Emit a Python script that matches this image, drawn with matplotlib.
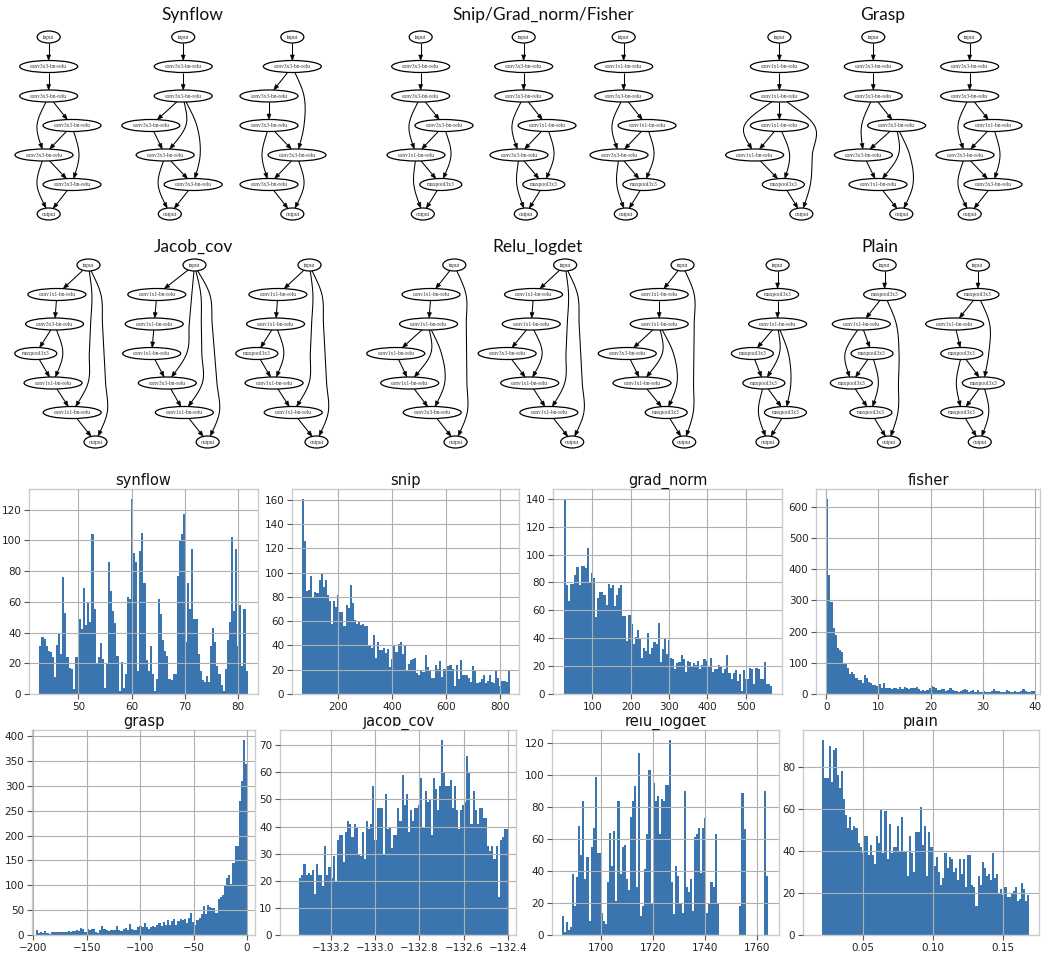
import numpy as np
import matplotlib
matplotlib.use("Agg")
import matplotlib.pyplot as plt
from matplotlib.patches import Ellipse, Polygon
from matplotlib.transforms import Bbox
from itertools import permutations, product
from collections import defaultdict

# ============================ DATA ============================
OP_LABELS = {"I": "input", "O": "output", "A": "conv3x3-bn-relu",
             "B": "conv1x1-bn-relu", "M": "maxpool3x3"}

ZIGZAG = [(0, 1), (1, 2), (2, 3), (2, 4), (3, 4), (3, 5), (4, 5), (4, 6), (5, 6)]

SYNFLOW_OPS = ["IAAAAAO", "IAAAAAO", "IAAAAAO"]
SYNFLOW_EDGES = [ZIGZAG,
                 [(0, 1), (1, 2), (2, 3), (2, 4), (2, 5), (3, 4), (4, 5), (4, 6), (5, 6)],
                 [(0, 1), (1, 2), (1, 4), (2, 3), (3, 4), (3, 5), (4, 5), (4, 6), (5, 6)]]
SNIP_OPS = ["IAAABMO", "IAABAMO", "IBABAMO"]
SNIP_EDGES = [ZIGZAG, ZIGZAG, ZIGZAG]
GRASP_OPS = ["IBBBBMO", "IAAAABO", "IAABAAO"]
GRASP_EDGES = [[(0, 1), (1, 2), (2, 3), (2, 4), (2, 6), (3, 4), (3, 5), (4, 5), (5, 6)],
               [(0, 1), (1, 2), (2, 3), (2, 4), (3, 4), (3, 5), (3, 6), (4, 5), (5, 6)],
               ZIGZAG]
JACOB_OPS = ["IBAMBBO", "IBBBABO", "IBBMBBO"]
JACOB_EDGES = [[(0, 1), (0, 5), (0, 6), (1, 2), (2, 3), (2, 4), (3, 4), (4, 5), (5, 6)],
               [(0, 1), (0, 4), (0, 5), (0, 6), (1, 2), (2, 3), (3, 4), (4, 5), (5, 6)],
               [(0, 1), (0, 5), (0, 6), (1, 2), (2, 3), (2, 4), (3, 4), (4, 5), (5, 6)]]
RELU_OPS = ["IBBBBAO", "IBBABBO", "IBBABMO"]
RELU_EDGES = [[(0, 1), (0, 6), (1, 2), (2, 3), (2, 4), (2, 5), (3, 4), (4, 5), (5, 6)],
              [(0, 1), (0, 5), (0, 6), (1, 2), (2, 3), (2, 4), (3, 4), (4, 5), (5, 6)],
              [(0, 1), (0, 6), (1, 2), (2, 3), (2, 4), (2, 5), (3, 4), (4, 5), (5, 6)]]
PLAIN_OPS = ["IMBMMMO", "IMBMMMO", "IMBMMMO"]
PLAIN_EDGES = [[(0, 1), (1, 2), (2, 3), (2, 4), (2, 5), (3, 4), (4, 5), (4, 6), (5, 6)],
               [(0, 1), (1, 2), (1, 6), (2, 3), (2, 4), (3, 4), (3, 5), (4, 5), (5, 6)],
               [(0, 1), (1, 2), (1, 4), (2, 3), (3, 4), (3, 5), (4, 5), (4, 6), (5, 6)]]

GROUP_TITLES = ["Synflow", "Snip/Grad_norm/Fisher", "Grasp", "Jacob_cov", "Relu_logdet", "Plain"]
GROUP_OPS = [SYNFLOW_OPS, SNIP_OPS, GRASP_OPS, JACOB_OPS, RELU_OPS, PLAIN_OPS]
GROUP_EDGES = [SYNFLOW_EDGES, SNIP_EDGES, GRASP_EDGES, JACOB_EDGES, RELU_EDGES, PLAIN_EDGES]

HIST_TITLES = ["synflow", "snip", "grad_norm", "fisher", "grasp", "jacob_cov", "relu_logdet", "plain"]

SYNFLOW_RANGE = (42.7, 81.75)
SYNFLOW_COUNTS = [31, 37, 36, 31, 28, 27, 24, 11, 32, 40, 26, 76, 53, 24, 17, 16, 3, 24, 24, 49,
                  42, 69, 45, 59, 47, 104, 55, 20, 24, 33, 23, 4, 20, 86, 67, 54, 46, 25, 2, 21,
                  4, 13, 63, 62, 127, 92, 86, 15, 93, 105, 72, 22, 15, 31, 13, 2, 10, 62, 52, 35,
                  28, 25, 10, 9, 13, 13, 77, 100, 104, 117, 34, 72, 55, 94, 49, 49, 26, 15, 9, 8,
                  12, 8, 31, 43, 34, 18, 13, 6, 2, 16, 35, 47, 102, 54, 94, 31, 58, 18, 55, 15]
SNIP_RANGE = (64.0, 837.0)
SNIP_COUNTS = [161, 126, 85, 86, 97, 80, 84, 83, 94, 99, 88, 94, 82, 77, 58, 77, 72, 82, 68, 68,
               56, 73, 71, 90, 75, 61, 58, 60, 57, 58, 56, 56, 40, 38, 49, 30, 43, 36, 36, 38,
               34, 37, 22, 29, 40, 35, 41, 43, 33, 40, 19, 25, 28, 29, 30, 17, 16, 19, 18, 32,
               22, 20, 13, 13, 24, 21, 27, 14, 21, 21, 23, 24, 21, 7, 24, 12, 28, 16, 16, 16,
               13, 10, 23, 20, 9, 10, 12, 16, 9, 11, 16, 10, 9, 19, 13, 7, 11, 11, 10, 19]
GRAD_NORM_RANGE = (26.0, 569.0)
GRAD_NORM_COUNTS = [140, 78, 67, 79, 79, 85, 91, 78, 92, 92, 90, 105, 80, 87, 83, 55, 69, 73, 73, 71,
                    64, 79, 76, 78, 63, 71, 76, 78, 56, 56, 38, 57, 50, 36, 41, 46, 40, 26, 33, 31,
                    44, 29, 33, 37, 36, 51, 23, 32, 40, 29, 39, 26, 25, 18, 22, 23, 28, 25, 16, 24,
                    23, 20, 22, 21, 24, 18, 21, 25, 24, 20, 26, 16, 18, 18, 21, 20, 15, 18, 28, 15,
                    11, 15, 17, 9, 14, 2, 17, 11, 11, 19, 18, 7, 19, 18, 11, 11, 23, 7, 7, 6]
FISHER_RANGE = (0.0, 40.0)
FISHER_COUNTS = [625, 380, 295, 210, 190, 148, 142, 135, 100, 95, 82, 65, 70, 65, 50, 45, 45, 35, 60, 50,
                 38, 35, 30, 28, 25, 32, 20, 35, 18, 20, 20, 15, 18, 20, 15, 22, 15, 22, 20, 15,
                 20, 18, 20, 22, 15, 10, 12, 10, 12, 20, 25, 22, 18, 12, 12, 15, 15, 10, 12, 18,
                 14, 10, 10, 8, 10, 12, 15, 14, 8, 10, 12, 8, 12, 8, 8, 10, 8, 5, 8, 10,
                 15, 10, 10, 8, 6, 5, 12, 10, 6, 8, 10, 8, 5, 10, 15, 10, 8, 5, 10, 10]
GRASP_RANGE = (-197.6, 0.2)
GRASP_COUNTS = [10, 5, 7, 5, 8, 5, 3, 7, 7, 6, 6, 6, 6, 6, 6, 8, 6, 8, 8, 10,
                8, 14, 12, 6, 13, 10, 13, 12, 7, 5, 11, 19, 12, 10, 9, 11, 11, 11, 19, 10,
                9, 12, 15, 10, 22, 12, 11, 10, 17, 19, 17, 24, 17, 12, 16, 19, 17, 20, 24, 18,
                26, 21, 31, 20, 28, 32, 20, 29, 33, 30, 33, 25, 35, 45, 27, 20, 30, 35, 43, 58,
                43, 60, 56, 55, 55, 45, 73, 77, 80, 100, 115, 120, 103, 145, 180, 180, 270, 310, 393, 345]
JACOB_RANGE = (-133.343, -132.4)
JACOB_COUNTS = [21, 22, 26, 22, 23, 22, 24, 15, 26, 22, 22, 18, 33, 22, 25, 21, 29, 20, 35, 37,
                37, 27, 38, 42, 41, 36, 41, 40, 30, 29, 38, 28, 42, 39, 41, 55, 35, 47, 47, 47,
                30, 52, 39, 40, 32, 37, 37, 47, 42, 59, 48, 52, 38, 46, 42, 47, 47, 48, 58, 40,
                53, 49, 50, 37, 58, 54, 46, 55, 72, 60, 55, 55, 57, 47, 55, 46, 39, 46, 48, 49,
                66, 60, 41, 53, 46, 41, 47, 47, 43, 43, 33, 31, 33, 28, 33, 14, 35, 36, 39, 39]
RELU_RANGE = (1684.9, 1764.2)
RELU_COUNTS = [12, 2, 8, 3, 5, 38, 18, 36, 68, 50, 84, 35, 49, 9, 55, 67, 99, 51, 51, 14,
               9, 7, 33, 64, 43, 65, 21, 84, 38, 55, 56, 35, 28, 74, 84, 93, 30, 114, 12, 18,
               41, 63, 103, 20, 95, 84, 87, 63, 85, 84, 94, 94, 122, 33, 13, 43, 37, 20, 14, 90,
               30, 27, 35, 15, 61, 63, 67, 39, 67, 73, 14, 20, 33, 30, 63, 20, 0, 0, 0, 0,
               0, 0, 0, 0, 0, 0, 18, 89, 66, 0, 0, 0, 0, 0, 0, 0, 0, 0, 90, 37]
PLAIN_RANGE = (0.02126, 0.16876)
PLAIN_COUNTS = [93, 75, 75, 90, 73, 88, 89, 76, 70, 78, 65, 57, 51, 56, 50, 52, 51, 44, 42, 39,
                47, 47, 38, 43, 38, 34, 47, 44, 60, 39, 59, 36, 53, 39, 42, 42, 52, 40, 56, 40,
                40, 28, 47, 39, 30, 49, 49, 61, 43, 52, 28, 49, 42, 42, 33, 37, 30, 24, 27, 39,
                32, 37, 36, 30, 32, 26, 36, 29, 36, 23, 38, 38, 24, 23, 14, 28, 24, 35, 32, 28,
                29, 26, 39, 27, 29, 20, 22, 19, 23, 18, 18, 20, 21, 23, 16, 17, 25, 22, 16, 19]

HIST_RANGES = [SYNFLOW_RANGE, SNIP_RANGE, GRAD_NORM_RANGE, FISHER_RANGE,
               GRASP_RANGE, JACOB_RANGE, RELU_RANGE, PLAIN_RANGE]
HIST_COUNTS = [SYNFLOW_COUNTS, SNIP_COUNTS, GRAD_NORM_COUNTS, FISHER_COUNTS,
               GRASP_COUNTS, JACOB_COUNTS, RELU_COUNTS, PLAIN_COUNTS]
HIST_XTICKS = [[50, 60, 70, 80], [200, 400, 600, 800], [100, 200, 300, 400, 500],
               [0, 10, 20, 30, 40], [-200, -150, -100, -50, 0],
               [-133.2, -133.0, -132.8, -132.6, -132.4], [1700, 1720, 1740, 1760],
               [0.05, 0.10, 0.15]]
HIST_YTICKS = [list(range(0, 121, 20)), list(range(0, 161, 20)), list(range(0, 141, 20)),
               list(range(0, 601, 100)), list(range(0, 401, 50)), list(range(0, 71, 10)),
               list(range(0, 121, 20)), list(range(0, 81, 20))]
HIST_XLIM = [(40.75, 83.7), (27.0, 871.6), (-2.5, 594.7), (-1.97, 40.96),
             (-201.2, 7.5), (-133.43, -132.364), (1681.2, 1768.3), (0.00745, 0.1757)]

# ============================ LAYOUT / STYLE ============================
FIG_W, FIG_H = 1045, 958
TOP_H = 460
TITLE_XY = [(192, 15), (543, 15), (883, 15), (193, 247), (537, 247), (880, 247)]
CELL_CX = [[58, 172, 283], [430, 533, 633], [770, 880, 979],
           [61, 171, 282], [417, 531, 647], [769, 868, 965]]
ROW_Y0 = [37, 37, 37, 265, 265, 265]
RANK_DY = 29.5
HALF_W = {"I": 11.5, "O": 11.5, "A": 29.0, "B": 29.0, "M": 21.0}
NODE_H = 12.0

HIST_BOX = [(29, 489, 258, 694), (292, 489, 519, 694), (553, 489, 782, 694), (816, 489, 1040, 694),
            (32, 730, 255, 935), (280, 730, 516, 935), (552, 730, 779, 935), (803, 730, 1039, 935)]
ROW2_CLIP_Y = 716.5
BAR_COLOR = "#3a75b0"


def pava(y, w):
    blocks = []
    for yi, wi in zip(y, w):
        blocks.append([yi, wi, 1])
        while len(blocks) > 1 and blocks[-2][0] > blocks[-1][0]:
            v2, w2, c2 = blocks.pop()
            v1, w1, c1 = blocks.pop()
            ww = w1 + w2
            blocks.append([(v1 * w1 + v2 * w2) / ww, ww, c1 + c2])
    out = []
    for v, _, c in blocks:
        out += [v] * c
    return np.array(out)


def layout_cell(ops, edges):
    n = len(ops)
    rank = [0] * n
    for v in range(n):
        preds = [u for (u, w) in edges if w == v]
        rank[v] = max([rank[u] + 1 for u in preds], default=0)
    R = max(rank) + 1
    short = {r: [] for r in range(R)}
    longs = {r: [] for r in range(R)}
    chains = {}
    for i in range(n):
        short[rank[i]].append(("n", i))
    for (u, v) in edges:
        span = rank[v] - rank[u]
        chain = [("n", u)]
        for r in range(rank[u] + 1, rank[v]):
            it = ("v", (u, v), r)
            chain.append(it)
            (longs if span >= 3 else short)[r].append(it)
        chain.append(("n", v))
        chains[(u, v)] = chain
    for r in range(R):
        longs[r].sort(key=lambda it: (-it[1][0], it[1][1]))

    def rk(it):
        return rank[it[1]] if it[0] == "n" else it[2]

    segs = [(c[k], c[k + 1]) for c in chains.values() for k in range(len(c) - 1)]
    skip2 = {u for (u, v) in edges if rank[v] - rank[u] == 2}
    options = [[list(p) + longs[r] for p in permutations(short[r])] for r in range(R)]
    best = None
    for combo in product(*options):
        pos = {it: k for items in combo for k, it in enumerate(items)}
        cross = 0
        for i in range(len(segs)):
            a1, b1 = segs[i]
            for j in range(i + 1, len(segs)):
                a2, b2 = segs[j]
                if rk(a1) != rk(a2):
                    continue
                if (pos[a1] - pos[a2]) * (pos[b1] - pos[b2]) < 0:
                    cross += 1
        prefs = []
        for r, items in enumerate(combo):
            v2 = [it for it in items if it[0] == "v" and it in short[r]]
            if not v2:
                prefs.append(0)
                continue
            node = [it for it in items if it[0] == "n"][0]
            right = all(pos[node] > pos[v] for v in v2)
            prefs.append(0 if right == (node[1] in skip2) else 1)
        key = (cross, tuple(prefs))
        if best is None or key < best[0]:
            best = (key, combo)
    order = best[1]

    def hw(it):
        return HALF_W[ops[it[1]]] if it[0] == "n" else 0.0

    def gap(a, b):
        return hw(a) + hw(b) + (9.0 if a[0] == b[0] == "v" else 6.0)

    nb = defaultdict(list)
    for a, b in segs:
        w = 1.0 if a[0] == b[0] == "n" else (8.0 if a[0] == b[0] == "v" else 2.0)
        nb[a].append((b, w))
        nb[b].append((a, w))
    x = {}
    for items in order:
        c = 0.0
        for k, it in enumerate(items):
            if k:
                c += gap(items[k - 1], it)
            x[it] = c
    sweep = list(range(R)) + list(range(R - 2, 0, -1))
    for _ in range(250):
        for r in sweep:
            items = order[r]
            W = np.array([sum(w for _, w in nb[it]) for it in items])
            t = np.array([sum(w * x[o] for o, w in nb[it]) for it in items]) / W
            off = np.concatenate([[0.0], np.cumsum([gap(items[k], items[k + 1])
                                                    for k in range(len(items) - 1)])])
            y = pava(t - off, W)
            for it, yy, oo in zip(items, y, off):
                x[it] = yy + oo
    return rank, order, x, chains, hw


def smooth(points, n=16):
    P = np.array(points, float)
    if len(P) == 2:
        return np.linspace(P[0], P[1], 40)
    T = np.zeros_like(P)
    T[0] = P[1] - P[0]
    T[-1] = P[-1] - P[-2]
    for i in range(1, len(P) - 1):
        T[i] = (P[i + 1] - P[i - 1]) / 2
    out = []
    for i in range(len(P) - 1):
        for s in np.linspace(0, 1, n, endpoint=False):
            h00 = 2 * s ** 3 - 3 * s ** 2 + 1
            h10 = s ** 3 - 2 * s ** 2 + s
            h01 = -2 * s ** 3 + 3 * s ** 2
            h11 = s ** 3 - s ** 2
            out.append(h00 * P[i] + h10 * T[i] + h01 * P[i + 1] + h11 * T[i + 1])
    out.append(P[-1])
    return np.array(out)


def inside(p, c, a, b):
    return ((p[0] - c[0]) / a) ** 2 + ((p[1] - c[1]) / b) ** 2 < 1.0


def boundary(p_in, p_out, c, a, b):
    lo, hi = np.array(p_in), np.array(p_out)
    for _ in range(30):
        m = (lo + hi) / 2
        if inside(m, c, a, b):
            lo = m
        else:
            hi = m
    return (lo + hi) / 2


def draw_cell(ax, ops, edges, cx, y0):
    rank, order, x, chains, hw = layout_cell(ops, edges)
    items = [it for its in order for it in its]
    lo = min(x[it] - hw(it) for it in items)
    hi = max(x[it] + hw(it) for it in items)
    shift = cx - (lo + hi) / 2

    def P(it):
        r = rank[it[1]] if it[0] == "n" else it[2]
        return (x[it] + shift, y0 + r * RANK_DY)

    for i, op in enumerate(ops):
        px, py = P(("n", i))
        ax.add_patch(Ellipse((px, py), 2 * HALF_W[op], NODE_H, fc="white", ec="black",
                             lw=0.9, zorder=3))
        ax.text(px, py + 0.3, OP_LABELS[op], ha="center", va="center", fontsize=4.0,
                family="Liberation Serif", color="#333333", zorder=4)
    for (u, v), chain in chains.items():
        pts = smooth([P(it) for it in chain])
        cu, cv = P(("n", u)), P(("n", v))
        au, av = HALF_W[ops[u]], HALF_W[ops[v]]
        b = NODE_H / 2
        k0 = 0
        while k0 < len(pts) - 1 and inside(pts[k0], cu, au, b):
            k0 += 1
        start = boundary(pts[k0 - 1], pts[k0], cu, au, b) if k0 > 0 else pts[0]
        k1 = len(pts) - 1
        while k1 > 0 and inside(pts[k1], cv, av, b):
            k1 -= 1
        end = boundary(pts[k1 + 1], pts[k1], cv, av, b)
        line = np.array([start] + list(pts[k0:k1 + 1]) + [end])
        L = 5.5
        acc = 0.0
        j = len(line) - 1
        while j > 0:
            seg = np.linalg.norm(line[j] - line[j - 1])
            if acc + seg >= L:
                break
            acc += seg
            j -= 1
        d = end - line[max(j - 1, 0)]
        d = d / (np.linalg.norm(d) + 1e-9)
        perp = np.array([-d[1], d[0]])
        tip = end
        bpt = tip - L * d
        body = np.array(list(line[:j]) + [bpt])
        ax.plot(body[:, 0], body[:, 1], color="black", lw=0.75, zorder=2,
                solid_capstyle="butt")
        ax.add_patch(Polygon([tip, bpt + 2.0 * perp, bpt - 2.0 * perp], closed=True,
                             fc="black", ec="black", lw=0.4, zorder=2))


# ============================ FIGURE ============================
fig = plt.figure(figsize=(FIG_W / 100, FIG_H / 100), dpi=100)
fig.patch.set_facecolor("white")

gax = fig.add_axes([0, 1 - TOP_H / FIG_H, 1, TOP_H / FIG_H])
gax.set_xlim(0, FIG_W)
gax.set_ylim(TOP_H, 0)
gax.axis("off")
for g, title in enumerate(GROUP_TITLES):
    tx, ty = TITLE_XY[g]
    gax.text(tx, ty, title, ha="center", va="center", fontsize=12.5, family="Lato",
             color="#111111")
    for c in range(3):
        draw_cell(gax, GROUP_OPS[g][c], GROUP_EDGES[g][c], CELL_CX[g][c], ROW_Y0[g])

for k, title in enumerate(HIST_TITLES):
    l, t, r, b = HIST_BOX[k]
    ax = fig.add_axes([l / FIG_W, 1 - b / FIG_H, (r - l) / FIG_W, (b - t) / FIG_H])
    counts = np.array(HIST_COUNTS[k], float)
    lo, hi = HIST_RANGES[k]
    edges = np.linspace(lo, hi, len(counts) + 1)
    ax.hist(edges[:-1], bins=edges, weights=counts, color=BAR_COLOR)
    ax.set_xticks(HIST_XTICKS[k])
    ax.set_yticks(HIST_YTICKS[k])
    ax.set_xlim(*HIST_XLIM[k])
    ax.set_axisbelow(False)
    ax.grid(True, color="#b0b0b0", lw=0.8)
    for s in ax.spines.values():
        s.set_color("#cccccc")
        s.set_linewidth(1.0)
    ax.tick_params(labelsize=7.5, length=3.5, width=0.8, color="#555555",
                   labelcolor="#222222", pad=2)
    ttl = ax.set_title(title, fontsize=10.5, pad=3, color="#111111")
    if k >= 4:
        ttl.set_clip_on(True)
        ttl.set_clip_box(Bbox.from_extents(0, 0, FIG_W, FIG_H - ROW2_CLIP_Y))

fig.savefig("out.png", dpi=100, facecolor="white")
